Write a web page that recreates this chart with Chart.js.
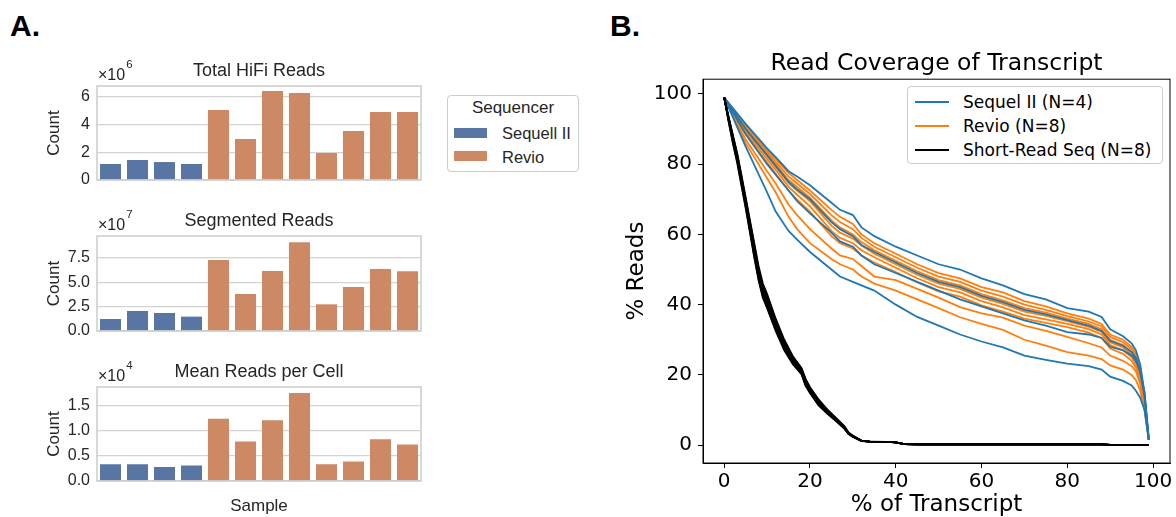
<!DOCTYPE html>
<html>
<head>
<meta charset="utf-8">
<script src="https://cdn.jsdelivr.net/npm/chart.js@4.4.1/dist/chart.umd.min.js"></script>
<style>
  html, body { margin: 0; padding: 0; background: #fff; }
  #fig { position: relative; width: 1176px; height: 517px; overflow: hidden; background: #fff; }
  canvas { position: absolute; }
  .tag { position: absolute; top: 11px; font: bold 30px "Liberation Sans", Arial, sans-serif; line-height: 30px; color: #000; }
  .legend { position: absolute; box-sizing: border-box; border: 1px solid #cccccc; border-radius: 4px; background: #fff; }
  .legend div { position: absolute; white-space: nowrap; }
  #legA { left: 447px; top: 95px; width: 132px; height: 77px; font: 16.5px "Liberation Sans", Arial, sans-serif; color: #262626; line-height: 20px; }
  #legB { left: 907px; top: 86px; width: 256px; height: 78px; font: 17px "DejaVu Sans", sans-serif; color: #000; line-height: 20px; }
</style>
</head>
<body>
<div id="fig">
  <div class="tag" style="left:10px">A.</div>
  <div class="tag" style="left:610px">B.</div>

  <canvas id="hifi" width="402" height="144" style="left:38px; top:50px"></canvas>
  <canvas id="segmented" width="402" height="145" style="left:38px; top:200px"></canvas>
  <canvas id="meanReads" width="402" height="166" style="left:38px; top:351px"></canvas>
  <canvas id="coverage" width="576" height="477" style="left:600px; top:40px"></canvas>

  <div class="legend" id="legA">
    <div style="left:0; width:130px; top:2px; text-align:center; font-size:17px">Sequencer</div>
    <div style="left:6px; top:32px; width:33px; height:10px; background:#5875a4"></div>
    <div style="left:54px; top:27px">Sequell II</div>
    <div style="left:6px; top:55px; width:33px; height:10px; background:#cc8963"></div>
    <div style="left:54px; top:51px">Revio</div>
  </div>

  <div class="legend" id="legB">
    <div style="left:7px; top:14px; width:34px; height:2px; background:#1f77b4"></div>
    <div style="left:55px; top:5px">Sequel II (N=4)</div>
    <div style="left:7px; top:38px; width:34px; height:2px; background:#ff7f0e"></div>
    <div style="left:55px; top:29px">Revio (N=8)</div>
    <div style="left:7px; top:62px; width:34px; height:2px; background:#000000"></div>
    <div style="left:55px; top:53px">Short-Read Seq (N=8)</div>
  </div>
</div>

<script>
// ---- panel A data ----
const SAMPLES = ["S1", "S2", "S3", "S4", "S5", "S6", "S7", "S8", "S9", "S10", "S11", "S12"];
const SEQUENCER = ["Sequell II", "Sequell II", "Sequell II", "Sequell II",
                   "Revio", "Revio", "Revio", "Revio", "Revio", "Revio", "Revio", "Revio"];
const HIFI_READS = [1.15e6, 1.44e6, 1.29e6, 1.15e6, 5.04e6, 2.95e6, 6.40e6, 6.26e6, 1.94e6, 3.53e6, 4.89e6, 4.89e6];
const SEGMENTED_READS = [1.23e7, 2.05e7, 1.84e7, 1.47e7, 7.27e7, 3.79e7, 6.14e7, 9.08e7, 2.73e7, 4.50e7, 6.35e7, 6.11e7];
const MEAN_READS_PER_CELL = [3350, 3350, 2800, 3100, 12450, 7900, 12150, 17600, 3350, 3900, 8350, 7300];

const HIFI_TICKS = [0, 2e6, 4e6, 6e6];
const SEGMENTED_TICKS = [0, 2.5e7, 5e7, 7.5e7];
const MEAN_TICKS = [0, 5000, 10000, 15000];

// ---- panel B data (% of transcript vs % reads) ----
const CURVE_X = [0, 5, 10, 12, 15, 17, 20, 25, 27, 30, 32, 35, 40, 45, 50, 55, 60, 65, 70, 75, 80, 85, 88, 90, 93, 95, 96, 97, 98, 99];

const SEQUEL_1 = [99, 91.5, 84.5, 82, 78, 76.5, 74, 69, 67, 65.5, 62, 59.5, 56.5, 54, 51.5, 50, 47.5, 45.5, 43, 41.5, 39, 38, 36.5, 33, 31, 29, 27, 23, 15, 2];
const SEQUEL_2 = [99, 88.5, 80, 77, 72.5, 69.5, 66, 60.5, 58, 56.5, 54, 51.5, 49, 46.5, 44, 41.5, 39.5, 37.5, 35.5, 34, 32.2, 31.5, 30.5, 28, 27, 25.5, 24, 21, 15, 1.5];
const SEQUEL_3 = [99, 90, 82.5, 79.5, 75, 72.8, 70, 63.5, 61.5, 59.5, 57, 55, 52, 49, 46.5, 45, 42.5, 40.7, 38.5, 37.2, 35.6, 34, 32.5, 29.7, 28.3, 26.5, 24.8, 21, 14, 1.5];
const SEQUEL_4 = [99, 85, 72, 66.5, 61, 58.5, 55, 50, 48, 46.5, 45.5, 44, 40, 36.5, 34, 31.5, 29.5, 27.8, 25.5, 24.3, 23.2, 22.5, 21.5, 19.5, 18.3, 17, 15.5, 13.5, 10, 1.5];

const REVIO_1 = [99, 91, 84, 81.5, 77.5, 75.5, 72.5, 67, 65, 63, 60, 57.5, 54.5, 51.5, 49, 47.5, 45, 43.5, 41, 39.5, 37.5, 36, 34.5, 31.5, 30, 28, 26, 22, 14, 1.5];
const REVIO_2 = [99, 90.5, 83.5, 80.7, 76.5, 74.5, 71.5, 65.5, 63.5, 61.5, 59, 56.5, 53.5, 50.5, 48, 46.5, 44, 42.3, 40, 38.5, 36.7, 35.2, 33.8, 30.8, 29.3, 27.3, 25.3, 21.5, 13.5, 1.5];
const REVIO_3 = [99, 90, 83, 80, 75.5, 73.5, 70.5, 64, 62, 60, 57.8, 55.5, 52.5, 49.5, 47, 45.5, 43, 41.2, 39, 37.7, 36, 34.5, 33, 30, 28.5, 26.5, 24.5, 20.5, 13, 1.5];
const REVIO_4 = [99, 89.5, 82.5, 79.3, 74.5, 72.5, 69.5, 62.5, 60.5, 58.8, 56.8, 54.5, 51.5, 48.5, 46, 44.5, 42, 40.2, 38, 36.8, 35.3, 33.7, 32.2, 29.3, 27.8, 25.8, 23.8, 20, 12.5, 1.5];
const REVIO_5 = [99, 89, 81.5, 78.4, 73.5, 71.3, 68, 61, 59, 57.5, 55.5, 53.5, 50.5, 47.5, 45, 43.5, 41, 39.2, 37, 35.8, 34.5, 33, 31.5, 28.5, 27, 25, 23, 19.5, 12, 1.5];
const REVIO_6 = [99, 88.5, 80.5, 77.3, 72.5, 69.9, 66.5, 59.5, 57.5, 56, 54, 52, 49.3, 46.3, 43.8, 42.3, 39.8, 38, 36, 34.8, 33.6, 32, 30.5, 27.5, 26, 24, 22, 18.5, 11.5, 1.5];
const REVIO_7 = [99, 87, 78, 74.5, 68.5, 65.5, 61.5, 56, 54, 53, 51, 48, 47, 44.5, 42, 39.3, 37.5, 36.3, 34, 32.5, 30.8, 29, 27.8, 25.5, 24, 22.5, 21, 17.5, 11, 1.5];
const REVIO_8 = [99, 86, 76, 72, 65, 61.5, 57.5, 53, 51.5, 50, 48, 46, 44, 41.5, 39, 36.4, 34.5, 32.8, 30, 28.3, 26.5, 25.5, 24.5, 22.7, 21.5, 20, 18.5, 15.5, 10, 1.5];

const SHORT_X = [0, 1, 2, 3, 4, 5, 6, 7, 8, 9, 10, 12, 14, 16, 18, 19, 20, 22, 24, 26, 28, 29, 30, 32,
                 34, 38, 40, 42, 45, 88, 90, 99];
const SHORT_TAIL = [1.0, 0.9, 0.8, 0.3, 0.2, 0.2, 0.05, 0];
const SHORT_1 = [99, 93, 87.5, 82, 75.5, 69, 62.5, 55.5, 48.5, 43.5, 40.5, 34, 28.5, 24, 21, 17.5, 15.5, 12, 9.5, 7.3, 5, 3.3, 2.5, 1.2];
const SHORT_2 = [99, 92.5, 86.5, 81, 74.5, 68, 61, 54, 47.5, 42.5, 39.5, 33, 27.5, 23.5, 20.5, 17, 15, 11.5, 9.2, 7, 4.8, 3.2, 2.4, 1.2];
const SHORT_3 = [99, 93.5, 88, 83, 76.5, 70, 63.5, 57, 50, 45, 42, 35.5, 29.5, 25, 21.8, 18.5, 16.3, 12.7, 10, 7.7, 5.3, 3.5, 2.6, 1.3];
const SHORT_4 = [99, 93, 87, 81.5, 75, 68.5, 62, 55, 48, 43, 40, 33.5, 28, 23.8, 20.8, 17.3, 15.3, 11.8, 9.3, 7.2, 4.9, 3.3, 2.5, 1.2];
const SHORT_5 = [99, 93.2, 88, 82.5, 76, 69.5, 63, 56, 49, 44, 41, 34.5, 29, 24.5, 21.3, 18, 15.8, 12.3, 9.7, 7.5, 5.1, 3.4, 2.5, 1.2];
const SHORT_6 = [99, 92.8, 87.2, 81.8, 75.3, 68.8, 62.3, 55.3, 48.3, 43.3, 40.3, 33.8, 28.3, 23.9, 20.9, 17.4, 15.4, 11.9, 9.4, 7.2, 5, 3.3, 2.5, 1.2];
const SHORT_7 = [99, 93.6, 88.4, 83.2, 77, 70.5, 64, 57.5, 51, 46, 43, 36, 30, 25.3, 22, 18.8, 16.5, 13, 10.2, 7.8, 5.4, 3.6, 2.7, 1.3];
const SHORT_8 = [99, 92.3, 86, 80.5, 74, 67.5, 60.5, 53.5, 47, 42, 39, 32.5, 27, 23, 20.2, 16.8, 14.8, 11.3, 9, 6.9, 4.7, 3.1, 2.3, 1.1];

const COVERAGE_TICKS = [0, 20, 40, 60, 80, 100];

// ---- styles ----
const SEQ_COLORS = { "Sequell II": "#5875a4", "Revio": "#cc8963" };
const SANS = '"Liberation Sans", Arial, sans-serif';
const DEJAVU = '"DejaVu Sans", sans-serif';
const TEXT_A = "#262626";

// box round the plot area (spines)
const framePlugin = {
    id: "frame",
    afterDatasetsDraw(chart, args, opts) {
        const { ctx, chartArea: a } = chart;
        ctx.save();
        ctx.strokeStyle = opts.color;
        ctx.lineWidth = opts.width;
        ctx.strokeRect(a.left, a.top, a.right - a.left, a.bottom - a.top);
        ctx.restore();
    }
};

// the "x10^n" offset text over the y axis
const sciLabelPlugin = {
    id: "sciLabel",
    afterDraw(chart, args, opts) {
        if (!opts.exp) return;
        const { ctx, chartArea } = chart;
        const x = chartArea.left + 1;
        const y = chartArea.top - 6;
        ctx.save();
        ctx.fillStyle = TEXT_A;
        ctx.textBaseline = "alphabetic";
        ctx.font = "16px " + SANS;
        ctx.fillText("\u00d710", x, y);
        const w = ctx.measureText("\u00d710").width;
        ctx.font = "11.5px " + SANS;
        ctx.fillText(opts.exp, x + w + 1, y - 12);
        ctx.restore();
    }
};

function createBarChart (id, values, ticks, scale, digits, max, titleText, exp, showSample) {
    return new Chart(document.getElementById(id), {
        type: "bar",
        data: {
            labels: SAMPLES,
            datasets: [
                {
                    data: values,
                    backgroundColor: SEQUENCER.map(s => SEQ_COLORS[s]),
                    barPercentage: 0.78,
                    categoryPercentage: 1
                }
            ]
        },
        options: {
            responsive: false,
            animation: false,
            layout: { padding: { top: 10, right: 19, bottom: showSample ? 0 : 14, left: 0 } },
            scales: {
                x: {
                    display: showSample,
                    grid: { display: false },
                    border: { display: false },
                    ticks: { display: false },
                    title: {
                        display: showSample,
                        text: "Sample",
                        color: TEXT_A,
                        font: { family: SANS, size: 17 },
                        padding: 0
                    },
                    afterFit: s => { s.height = showSample ? 36 : 0; }
                },
                y: {
                    min: 0,
                    max: max,
                    afterBuildTicks: s => { s.ticks = ticks.map(v => ({ value: v })); },
                    afterFit: s => {
                        s.width = 59;
                        s.paddingTop = 0;
                        s.paddingBottom = 0;
                    },
                    grid: { color: "#d4d4d4", lineWidth: 1.2, drawTicks: false },
                    border: { display: false },
                    ticks: {
                        autoSkip: false,
                        padding: 7,
                        color: TEXT_A,
                        font: { family: SANS, size: 16 },
                        callback: v => (v / scale).toFixed(digits)
                    },
                    title: {
                        display: true,
                        text: "Count",
                        color: TEXT_A,
                        font: { family: SANS, size: 17 },
                        padding: { top: 6, bottom: 0 }
                    }
                }
            },
            plugins: {
                legend: { display: false },
                tooltip: { enabled: false },
                title: {
                    display: true,
                    text: titleText,
                    fullSize: false,
                    color: TEXT_A,
                    font: { family: SANS, size: 18, weight: "normal" },
                    padding: { top: 0, bottom: 4.4 }
                },
                frame: { color: "#cccccc", width: 1.5 },
                sciLabel: { exp: exp }
            }
        },
        plugins: [framePlugin, sciLabelPlugin]
    });
}

createBarChart("hifi", HIFI_READS, HIFI_TICKS, 1e6, 0, 6.76e6, "Total HiFi Reads", "6", false);
createBarChart("segmented", SEGMENTED_READS, SEGMENTED_TICKS, 1e7, 1, 9.72e7, "Segmented Reads", "7", false);
createBarChart("meanReads", MEAN_READS_PER_CELL, MEAN_TICKS, 1e4, 1, 1.88e4, "Mean Reads per Cell", "4", true);

// ---- panel B ----
function curve (xs, ys, color) {
    return {
        data: xs.map((x, i) => ({ x: x, y: ys[i] })),
        borderColor: color,
        borderWidth: 1.8,
        pointRadius: 0,
        fill: false,
        tension: 0
    };
}

const shortReads = [SHORT_1, SHORT_2, SHORT_3, SHORT_4, SHORT_5, SHORT_6, SHORT_7, SHORT_8]
    .map(ys => curve(SHORT_X, ys.concat(SHORT_TAIL), "#000000"));
const sequel = [SEQUEL_1, SEQUEL_2, SEQUEL_3, SEQUEL_4].map(ys => curve(CURVE_X, ys, "#1f77b4"));
const revio = [REVIO_1, REVIO_2, REVIO_3, REVIO_4, REVIO_5, REVIO_6, REVIO_7, REVIO_8]
    .map(ys => curve(CURVE_X, ys, "#ff7f0e"));

const axisB = (min, max) => ({
    type: "linear",
    min: min,
    max: max,
    afterBuildTicks: s => { s.ticks = COVERAGE_TICKS.map(v => ({ value: v })); },
    grid: { drawOnChartArea: false, drawTicks: true, tickLength: 5, color: "#000", tickWidth: 1 },
    border: { color: "#000", width: 1 },
    ticks: { autoSkip: false, color: "#000", font: { family: DEJAVU, size: 20 }, maxRotation: 0 }
});

const xB = axisB(-4.95, 103.95);
xB.afterFit = s => { s.height = 54; };
xB.ticks.padding = 2;
xB.title = { display: true, text: "% of Transcript", color: "#000",
             font: { family: DEJAVU, size: 23, lineHeight: 1 }, padding: 0 };

const yB = axisB(-5.1, 104.2);
yB.afterFit = s => { s.width = 103; };
yB.ticks.padding = 6;
yB.title = { display: true, text: "% Reads", color: "#000",
             font: { family: DEJAVU, size: 23 }, padding: { top: 23, bottom: 0 } };

new Chart(document.getElementById("coverage"), {
    type: "line",
    data: { datasets: shortReads.concat(sequel, revio) },
    options: {
        responsive: false,
        animation: false,
        layout: { padding: { top: 0, right: 6, bottom: 0, left: 0 } },
        scales: { x: xB, y: yB },
        plugins: {
            legend: { display: false },
            tooltip: { enabled: false },
            title: {
                display: true,
                text: "Read Coverage of Transcript",
                fullSize: false,
                color: "#000",
                font: { family: DEJAVU, size: 23.5, weight: "normal" },
                padding: { top: 10, bottom: 1 }
            },
            frame: { color: "#000", width: 1 }
        }
    },
    plugins: [framePlugin]
});
</script>
</body>
</html>
